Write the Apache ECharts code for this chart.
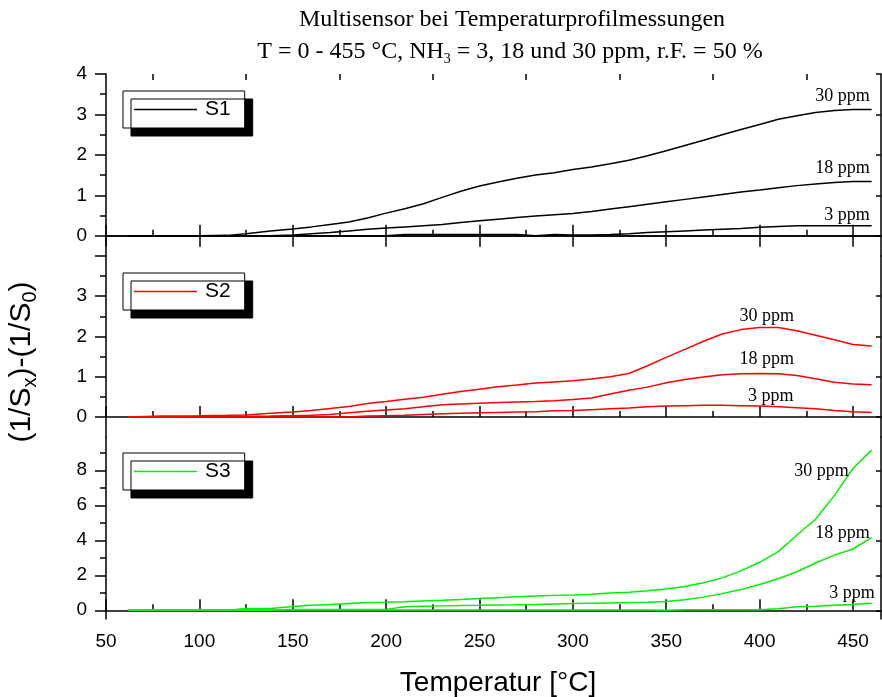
<!DOCTYPE html>
<html><head><meta charset="utf-8">
<script src="https://cdn.jsdelivr.net/npm/echarts@6/dist/echarts.min.js"></script>
<style>html,body{margin:0;padding:0;background:#fff}#c{width:882px;height:697px}</style>
</head><body><div id="c"></div>
<script>
// Temperature grid (°C)
const temps = [62, 80, 100, 115, 125, 138, 150, 160, 170, 180, 190, 200, 210, 220, 230, 240, 250, 260, 270, 280, 290, 300, 310, 320, 330, 340, 350, 360, 370, 380, 390, 400, 410, 420, 430, 440, 450, 460];
// Sensor S1
const s1_30 = [0, 0, 0, 0.01, 0.05, 0.12, 0.17, 0.22, 0.28, 0.34, 0.44, 0.56, 0.67, 0.79, 0.95, 1.1, 1.23, 1.33, 1.42, 1.5, 1.56, 1.64, 1.7, 1.78, 1.87, 1.98, 2.1, 2.23, 2.36, 2.5, 2.63, 2.75, 2.88, 2.97, 3.05, 3.1, 3.12, 3.12];
const s1_18 = [0, 0, 0, 0, 0, 0, 0.02, 0.05, 0.08, 0.12, 0.16, 0.19, 0.22, 0.25, 0.28, 0.33, 0.37, 0.41, 0.45, 0.49, 0.52, 0.55, 0.6, 0.66, 0.72, 0.78, 0.84, 0.9, 0.96, 1.02, 1.08, 1.13, 1.19, 1.24, 1.28, 1.32, 1.34, 1.34];
const s1_3  = [0, 0, 0, 0, 0, 0, 0, 0, 0, 0, 0, 0, 0.03, 0.03, 0.03, 0.03, 0.03, 0.03, 0.03, 0.0, 0.03, 0.02, 0.02, 0.03, 0.05, 0.08, 0.1, 0.12, 0.14, 0.16, 0.18, 0.21, 0.23, 0.25, 0.25, 0.25, 0.25, 0.25];
// Sensor S2
const s2_30 = [0, 0.02, 0.03, 0.04, 0.05, 0.09, 0.12, 0.16, 0.21, 0.26, 0.33, 0.38, 0.44, 0.49, 0.56, 0.63, 0.69, 0.75, 0.79, 0.84, 0.87, 0.9, 0.94, 1.0, 1.08, 1.27, 1.48, 1.68, 1.88, 2.06, 2.17, 2.22, 2.22, 2.14, 2.03, 1.92, 1.8, 1.76];
const s2_18 = [0, 0, 0.01, 0.01, 0.01, 0.02, 0.03, 0.04, 0.06, 0.1, 0.14, 0.17, 0.2, 0.25, 0.3, 0.32, 0.34, 0.36, 0.37, 0.38, 0.4, 0.43, 0.47, 0.57, 0.66, 0.74, 0.85, 0.93, 0.99, 1.05, 1.07, 1.08, 1.07, 1.03, 0.95, 0.86, 0.82, 0.8];
const s2_3  = [0, 0, 0, 0, 0, 0, 0, 0, 0, 0, 0.02, 0.03, 0.04, 0.06, 0.08, 0.09, 0.1, 0.11, 0.12, 0.13, 0.15, 0.16, 0.18, 0.2, 0.22, 0.25, 0.27, 0.28, 0.29, 0.29, 0.28, 0.27, 0.25, 0.23, 0.2, 0.16, 0.13, 0.11];
// Sensor S3
const s3_30 = [0, 0, 0, 0, 0.1, 0.1, 0.22, 0.28, 0.33, 0.38, 0.44, 0.46, 0.49, 0.53, 0.57, 0.62, 0.67, 0.72, 0.77, 0.81, 0.85, 0.87, 0.92, 0.98, 1.03, 1.12, 1.22, 1.36, 1.57, 1.85, 2.25, 2.74, 3.35, 4.3, 5.2, 6.55, 8.1, 9.15];
const s3_18 = [0, 0, 0, 0, 0, 0, 0.05, 0.05, 0.05, 0.05, 0.05, 0.05, 0.2, 0.23, 0.25, 0.27, 0.28, 0.3, 0.31, 0.33, 0.36, 0.38, 0.4, 0.42, 0.44, 0.46, 0.5, 0.6, 0.75, 0.95, 1.18, 1.47, 1.8, 2.2, 2.7, 3.15, 3.5, 4.15];
const s3_3  = [0, 0, 0, 0, 0.02, 0.02, 0.02, 0.02, 0.02, 0.02, 0.02, 0.02, 0.02, 0.02, 0.02, 0.02, 0.02, 0.02, 0.02, 0.02, 0.02, 0.02, 0.02, 0.02, 0.02, 0.02, 0.0, 0.03, 0.03, 0.03, 0.03, 0.03, 0.08, 0.2, 0.23, 0.28, 0.33, 0.4];
// Tick labels
const xTicks = [50, 100, 150, 200, 250, 300, 350, 400, 450];
const xMinor = [75, 125, 175, 225, 275, 325, 375, 425];
const y1Ticks = [0, 1, 2, 3, 4];
const y2Ticks = [0, 1, 2, 3];
const y12Minor = [-0.5, 0.5, 1.5, 2.5, 3.5];
const y3Ticks = [0, 2, 4, 6, 8];
const y3Minor = [1, 3, 5, 7, 9];
const ppmLabels = ['30 ppm', '18 ppm', '3 ppm'];

const SANS = 'Liberation Sans';
const SERIF = 'Liberation Serif';
const AX = {color: '#000', width: 1.5};

const grids = [
  {left: 106, right: 1, top: 74, height: 182},
  {left: 106, right: 1, top: 256, height: 181},
  {left: 106, right: 1, top: 437, height: 182}
];
const yRanges = [[-0.5, 4], [-0.5, 4], [-0.5, 9.9]];

function xAx(g, pos, vals, len, line, labels) {
  return {
    type: 'value', gridIndex: g, position: pos, min: 50, max: 465,
    axisLine: {show: line, lineStyle: AX},
    axisTick: {show: true, inside: true, length: len, lineStyle: AX, customValues: vals},
    axisLabel: {show: labels, customValues: vals, margin: 13, color: '#000', fontFamily: SANS, fontSize: 19},
    splitLine: {show: false}
  };
}
function yAx(g, pos, vals, len, inside, line, labels) {
  return {
    type: 'value', gridIndex: g, position: pos, min: yRanges[g][0], max: yRanges[g][1],
    axisLine: {show: line, lineStyle: AX},
    axisTick: {show: true, inside: inside, length: len, lineStyle: AX, customValues: vals},
    axisLabel: {show: !!labels, customValues: labels || vals, margin: 19, color: '#000', fontFamily: SANS, fontSize: 19},
    splitLine: {show: false}
  };
}

const xAxis = [
  xAx(0, 'bottom', xTicks, 11, true, false),
  xAx(1, 'bottom', xTicks, 11, true, false),
  xAx(2, 'bottom', xTicks, 11, true, true),
  xAx(0, 'bottom', xMinor, 6, false, false),
  xAx(1, 'bottom', xMinor, 6, false, false),
  xAx(2, 'bottom', xMinor, 6, false, false),
  xAx(0, 'top', xTicks, 11, true, false),
  xAx(0, 'top', xMinor, 6, false, false)
];
const yAxis = [
  yAx(0, 'left', y1Ticks, 11, false, true, y1Ticks),
  yAx(1, 'left', y1Ticks, 11, false, true, y2Ticks),
  yAx(2, 'left', y3Ticks, 11, false, true, y3Ticks),
  yAx(0, 'left', y12Minor, 6, false, false, null),
  yAx(1, 'left', y12Minor.slice(1), 6, false, false, null),
  yAx(2, 'left', y3Minor, 6, false, false, null),
  yAx(0, 'right', y1Ticks, 5, true, true, null),
  yAx(1, 'right', y2Ticks, 5, true, true, null),
  yAx(2, 'right', y3Ticks, 5, true, true, null)
];

function mp(coord, text, align) {
  return {
    symbol: 'circle', symbolSize: 0, silent: true,
    itemStyle: {color: 'transparent'},
    label: {show: true, position: 'inside', formatter: text, align: align, verticalAlign: 'middle',
            color: '#000', fontFamily: SERIF, fontSize: 18},
    data: [{coord: coord}]
  };
}
function ser(name, g, vals, color, label) {
  return {
    type: 'line', name: name, xAxisIndex: g, yAxisIndex: g,
    data: temps.map((t, i) => [t, vals[i]]),
    symbol: 'none', lineStyle: {color: color, width: 1.5}, itemStyle: {color: color},
    markPoint: label
  };
}
const BLACK = '#000000', RED = '#ff0000', GREEN = '#00f000';
const series = [
  ser('S1', 0, s1_30, BLACK, mp([459, 3.45], ppmLabels[0], 'right')),
  ser('S1', 0, s1_18, BLACK, mp([459, 1.68], ppmLabels[1], 'right')),
  ser('S1', 0, s1_3, BLACK, mp([459, 0.51], ppmLabels[2], 'right')),
  ser('S2', 1, s2_30, RED, mp([403.8, 2.5], ppmLabels[0], 'center')),
  ser('S2', 1, s2_18, RED, mp([403.8, 1.43], ppmLabels[1], 'center')),
  ser('S2', 1, s2_3, RED, mp([405.9, 0.51], ppmLabels[2], 'center')),
  ser('S3', 2, s3_30, GREEN, mp([433.1, 7.96], ppmLabels[0], 'center')),
  ser('S3', 2, s3_18, GREEN, mp([444.4, 4.42], ppmLabels[1], 'center')),
  ser('S3', 2, s3_3, GREEN, mp([449.5, 0.98], ppmLabels[2], 'center'))
];

const LINE_ICON = 'path://M0,0 L84,0 L84,2 L0,2 Z';
function lg(name, top) {
  return {
    data: [{name: name, icon: LINE_ICON}], left: 123, top: top, orient: 'horizontal', selectedMode: false,
    itemWidth: 63, itemHeight: 22, padding: [8, 14, 8, 11],
    textStyle: {fontSize: 21, fontFamily: SANS, color: '#000', padding: [0, 0, 0, 3]},
    backgroundColor: '#fff', borderColor: '#000', borderWidth: 1,
    shadowColor: '#000', shadowBlur: 0, shadowOffsetX: 8, shadowOffsetY: 8
  };
}

const chart = echarts.init(document.getElementById('c'), null, {renderer: 'canvas'});
chart.setOption({
  animation: false,
  backgroundColor: '#fff',
  grid: grids,
  xAxis: xAxis,
  yAxis: yAxis,
  legend: [lg('S1', 91), lg('S2', 273), lg('S3', 453)],
  series: series,
  graphic: [
    {type: 'text', x: 512, y: 20, style: {text: 'Multisensor bei Temperaturprofilmessungen',
      fontFamily: SERIF, fontSize: 24, fill: '#000', align: 'center', verticalAlign: 'middle'}},
    {type: 'text', x: 510, y: 52, style: {text: 'T = 0 - 455 °C, NH{s|3} = 3, 18 und 30 ppm, r.F. = 50 %',
      fontFamily: SERIF, fontSize: 24, fill: '#000', align: 'center', verticalAlign: 'middle',
      rich: {s: {fontFamily: SERIF, fontSize: 14, fill: '#000', padding: [14, 0, 0, 0]}}}},
    {type: 'text', x: 498, y: 683, style: {text: 'Temperatur [°C]',
      fontFamily: SANS, fontSize: 28, fill: '#000', align: 'center', verticalAlign: 'middle'}},
    {type: 'text', x: 22, y: 362, rotation: Math.PI / 2, style: {text: '(1/S{s|x})-(1/S{s|0})',
      fontFamily: SANS, fontSize: 30, fill: '#000', align: 'center', verticalAlign: 'middle',
      rich: {s: {fontFamily: SANS, fontSize: 20, fill: '#000', padding: [17, 0, 0, 0]}}}}
  ]
});
</script></body></html>
